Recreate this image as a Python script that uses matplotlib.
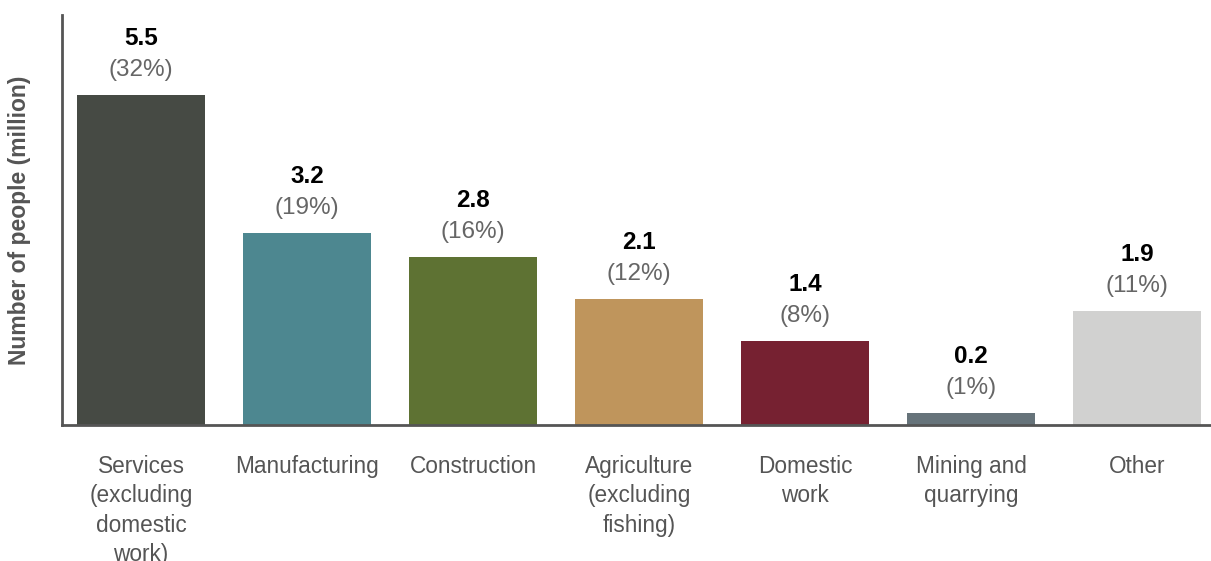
#!/usr/bin/env python3
import matplotlib
matplotlib.use('Agg')
import matplotlib.pyplot as plt

plt.rcParams['font.family'] = ['Liberation Sans', 'DejaVu Sans']

categories = ["Services\n(excluding\ndomestic\nwork)", "Manufacturing", "Construction",
              "Agriculture\n(excluding\nfishing)", "Domestic\nwork", "Mining and\nquarrying", "Other"]
values = [5.5, 3.2, 2.8, 2.1, 1.4, 0.2, 1.9]
shares = ["32%", "19%", "16%", "12%", "8%", "1%", "11%"]
colors = ["#464a44", "#4d8790", "#5e7233", "#bf955c", "#762131", "#66737a", "#d1d1d0"]

fig = plt.figure(figsize=(12.11, 5.61), dpi=100)
ax = fig.add_axes([0.0512, 0.2424, 0.9488, 0.7306])

x = range(len(values))
ax.bar(x, values, width=0.77, color=colors, zorder=1)

for xi, v, s in zip(x, values, shares):
    ax.annotate(f"{v:.1f}", (xi, v), xytext=(0, 40.5), textcoords='offset points',
                ha='center', va='center', fontsize=17.5, fontweight='bold', color='black')
    ax.annotate(f"({s})", (xi, v), xytext=(0, 18), textcoords='offset points',
                ha='center', va='center', fontsize=17.5, color='#666666')

ax.set_xlim(-0.476, 6.446)
ax.set_ylim(0, 6.83)
ax.set_xticks(list(x))
ax.set_xticklabels(categories, fontsize=16.3, color='#555555', linespacing=1.36, va='top')
ax.tick_params(axis='x', length=0, pad=21.5)
ax.set_yticks([])
ax.set_ylabel("Number of people (million)", fontsize=16.5, fontweight='bold', color='#555555')
ax.yaxis.set_label_coords(-0.027, 0.5)

for side in ['top', 'right']:
    ax.spines[side].set_visible(False)
ax.spines['left'].set_color('#555555')
ax.spines['bottom'].set_color('#555555')
ax.spines['left'].set_linewidth(2)
ax.spines['bottom'].set_linewidth(2)
ax.spines['bottom'].set_zorder(3)

fig.savefig("out.png", dpi=100)
